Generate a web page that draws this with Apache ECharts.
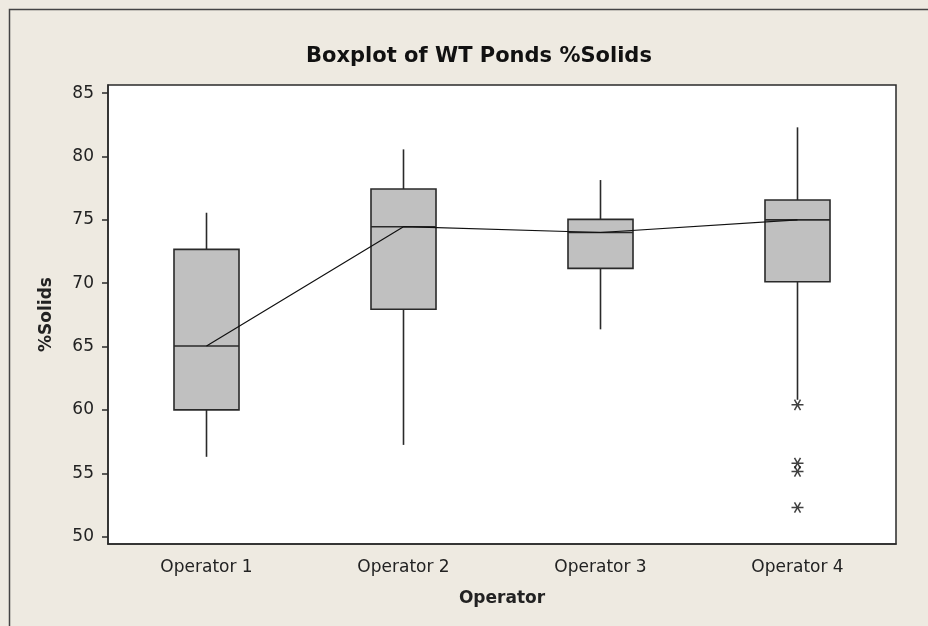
<!DOCTYPE html>
<html>
<head>
<meta charset="utf-8">
<script src="https://cdn.jsdelivr.net/npm/echarts@6/dist/echarts.min.js"></script>
<style>
  html, body { margin: 0; padding: 0; background: #eeeae1; }
  #chart { width: 928px; height: 626px; }
</style>
</head>
<body>
<div id="chart"></div>
<script>
// categories and box stats
const operators = ["Operator 1", "Operator 2", "Operator 3", "Operator 4"];
// [low whisker, Q1, median, Q3, high whisker]
const boxStats = [
  [56.3, 60.0, 65.05, 72.67, 75.56],
  [57.24, 67.94, 74.46, 77.43, 80.56],
  [66.36, 71.17, 74.0, 75.04, 78.14],
  [60.8, 70.12, 75.0, 76.56, 82.3]
];
const medians = [65.05, 74.46, 74.0, 75.0];
// outliers: [category index, value]
const outliers = [
  [3, 60.4],
  [3, 55.8],
  [3, 55.15],
  [3, 52.3]
];
const yTicks = [50, 55, 60, 65, 70, 75, 80, 85];

const textColor = "#222";
const lineColor = "#2a2a2a";
const font = "DejaVu Sans";

const chart = echarts.init(document.getElementById("chart"));

const boxData = boxStats.map((s, i) => [i].concat(s));

function renderBox(params, api) {
  const idx = api.value(0);
  const lo = api.coord([idx, api.value(1)]);
  const q1 = api.coord([idx, api.value(2)]);
  const med = api.coord([idx, api.value(3)]);
  const q3 = api.coord([idx, api.value(4)]);
  const hi = api.coord([idx, api.value(5)]);
  const bw = api.size([1, 0])[0] * 0.33;
  const x = lo[0];
  const style = { stroke: lineColor, lineWidth: 1.6 };
  return {
    type: "group",
    children: [
      { type: "line", shape: { x1: x, y1: hi[1], x2: x, y2: q3[1] }, style: style },
      { type: "line", shape: { x1: x, y1: q1[1], x2: x, y2: lo[1] }, style: style },
      {
        type: "rect",
        shape: { x: x - bw / 2, y: q3[1], width: bw, height: q1[1] - q3[1] },
        style: { fill: "#c0c0c0", stroke: lineColor, lineWidth: 1.6 }
      },
      { type: "line", shape: { x1: x - bw / 2, y1: med[1], x2: x + bw / 2, y2: med[1] }, style: style }
    ]
  };
}

const option = {
  backgroundColor: "#eeeae1",
  animation: false,
  title: {
    text: "Boxplot of WT Ponds %Solids",
    left: 474,
    textAlign: "center",
    top: 41,
    textStyle: { fontFamily: font, fontWeight: "bold", fontSize: 21, color: "#111" }
  },
  graphic: [
    {
      type: "rect",
      left: 7, top: 7,
      shape: { width: 960, height: 700 },
      style: { fill: "none", stroke: "#444", lineWidth: 1.5 },
      silent: true
    }
  ],
  grid: {
    left: 108, right: 32, top: 85, bottom: 82,
    show: true,
    backgroundColor: "#fff",
    borderColor: lineColor,
    borderWidth: 1.5
  },
  xAxis: {
    type: "category",
    data: operators,
    boundaryGap: true,
    name: "Operator",
    nameLocation: "middle",
    nameGap: 46,
    nameTextStyle: { fontFamily: font, fontWeight: "bold", fontSize: 17, color: textColor },
    axisLine: { lineStyle: { color: lineColor, width: 1.5 } },
    axisTick: { alignWithLabel: true, length: 6, lineStyle: { color: lineColor, width: 1.5 } },
    axisLabel: { fontFamily: font, fontSize: 17, color: textColor, margin: 15 },
    splitLine: { show: false }
  },
  yAxis: {
    type: "value",
    min: 49.42,
    max: 85.64,
    name: "%Solids",
    nameLocation: "middle",
    nameGap: 53,
    nameTextStyle: { fontFamily: font, fontWeight: "bold", fontSize: 17, color: textColor },
    axisLine: { show: true, lineStyle: { color: lineColor, width: 1.5 } },
    axisTick: { show: true, length: 6, customValues: yTicks, lineStyle: { color: lineColor, width: 1.5 } },
    axisLabel: { fontFamily: font, fontSize: 17, color: textColor, margin: 14, customValues: yTicks },
    splitLine: { show: false }
  },
  series: [
    {
      type: "custom",
      renderItem: renderBox,
      data: boxData,
      encode: { x: 0, y: [1, 2, 3, 4, 5] },
      z: 2
    },
    {
      type: "line",
      data: medians,
      symbol: "none",
      lineStyle: { color: "#111", width: 1.2 },
      z: 3
    },
    {
      type: "scatter",
      data: outliers,
      symbol: "path://M0,5 L10,5 M2.5,0.67 L7.5,9.33 M7.5,0.67 L2.5,9.33",
      symbolSize: 12,
      symbolKeepAspect: true,
      itemStyle: { color: "rgba(0,0,0,0)", borderColor: "#111", borderWidth: 1.5 },
      z: 4
    }
  ]
};

chart.setOption(option);
</script>
</body>
</html>
